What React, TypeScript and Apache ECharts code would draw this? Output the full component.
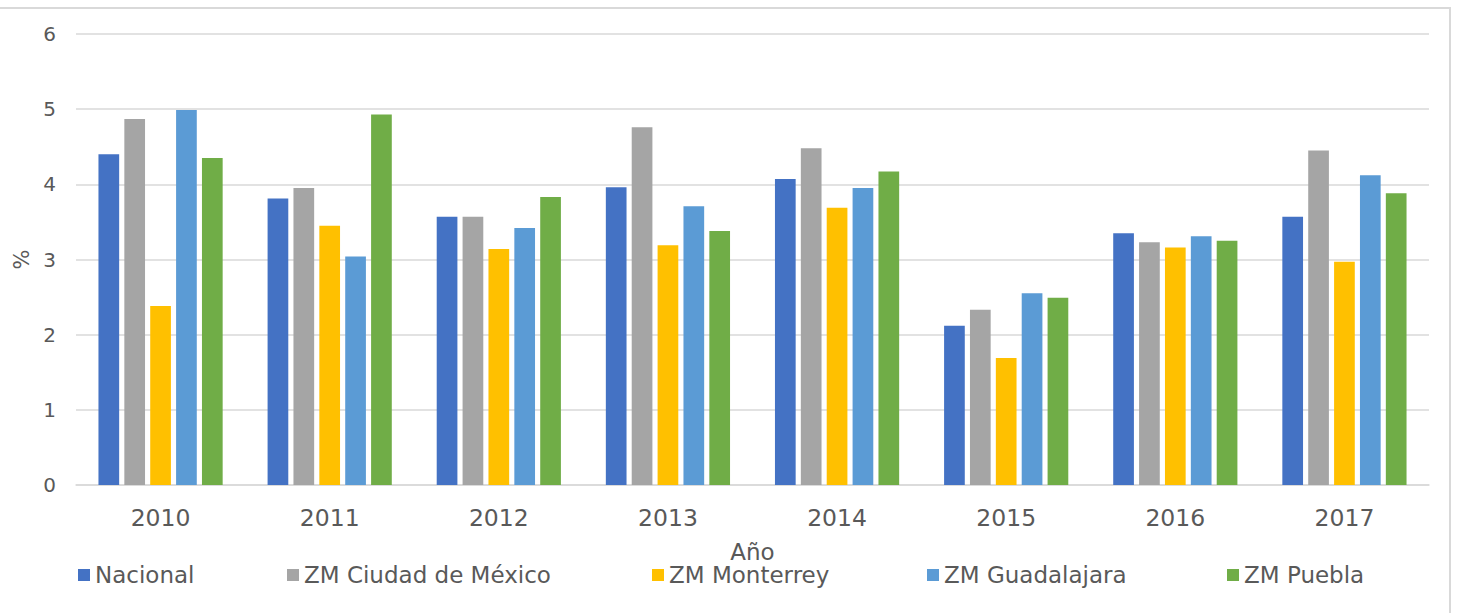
import React, { useEffect, useRef } from "react";
import * as echarts from "echarts";

const years = ["2010", "2011", "2012", "2013", "2014", "2015", "2016", "2017"];
const nacional = [4.4, 3.81, 3.57, 3.96, 4.07, 2.12, 3.35, 3.57];
const cdmx = [4.87, 3.95, 3.57, 4.76, 4.48, 2.33, 3.23, 4.45];
const monterrey = [2.38, 3.45, 3.14, 3.19, 3.69, 1.69, 3.16, 2.97];
const guadalajara = [4.99, 3.04, 3.42, 3.71, 3.95, 2.55, 3.31, 4.12];
const puebla = [4.35, 4.93, 3.83, 3.38, 4.17, 2.49, 3.25, 3.88];

const seriesNames = ["Nacional", "ZM Ciudad de México", "ZM Monterrey", "ZM Guadalajara", "ZM Puebla"];
const seriesData = [nacional, cdmx, monterrey, guadalajara, puebla];
const colors = ["#4472C4", "#A5A5A5", "#FFC000", "#5B9BD5", "#70AD47"];
const legendLefts = [78, 287, 652, 927, 1227];

const FONT = "DejaVu Sans, Verdana, sans-serif";
const TXT = "#595959";

export default function App() {
  const ref = useRef<HTMLDivElement>(null);
  useEffect(() => {
    if (!ref.current) return;
    const chart = echarts.init(ref.current, null, { renderer: "svg" });
    chart.setOption({
      animation: false,
      backgroundColor: "#ffffff",
      color: colors,
      textStyle: { fontFamily: FONT, color: TXT },
      grid: { left: 76, right: 28, top: 34, bottom: 128, containLabel: false, outerBoundsMode: "none" },
      graphic: [
        {
          type: "rect",
          silent: true,
          z: -10,
          shape: { x: -5, y: 8, width: 1455, height: 700 },
          style: { fill: "none", stroke: "#d9d9d9", lineWidth: 2 },
        },
      ],
      legend: seriesNames.map((n, i) => ({
        data: [n],
        left: legendLefts[i],
        top: 563,
        padding: 0,
        icon: "rect",
        itemWidth: 12,
        itemHeight: 12,
        textStyle: { fontFamily: FONT, fontSize: 23, color: TXT, lineHeight: 24 },
      })),
      xAxis: {
        type: "category",
        data: years,
        name: "Año",
        nameLocation: "middle",
        nameGap: 55,
        nameTextStyle: { fontFamily: FONT, fontSize: 23, color: TXT },
        axisLine: { lineStyle: { color: "#d9d9d9", width: 1.5 } },
        axisTick: { show: false },
        axisLabel: { fontFamily: FONT, fontSize: 23.5, color: TXT, margin: 21 },
      },
      yAxis: {
        type: "value",
        min: 0,
        max: 6,
        interval: 1,
        name: "%",
        nameLocation: "middle",
        nameRotate: 90,
        nameGap: 42,
        nameTextStyle: { fontFamily: FONT, fontSize: 21, color: TXT },
        axisLine: { show: false },
        axisTick: { show: false },
        splitLine: { lineStyle: { color: "#d9d9d9", width: 1.5 } },
        axisLabel: { fontFamily: FONT, fontSize: 20, color: TXT, margin: 20 },
      },
      series: seriesNames.map((n, i) => ({
        name: n,
        type: "bar",
        data: seriesData[i],
        barWidth: 20.7,
        barGap: "25%",
        itemStyle: { color: colors[i] },
      })),
    });
    return () => chart.dispose();
  }, []);
  return (
    <div
      ref={ref}
      style={{ position: "fixed", left: 0, top: 0, width: 1457, height: 613, background: "#fff" }}
    />
  );
}
